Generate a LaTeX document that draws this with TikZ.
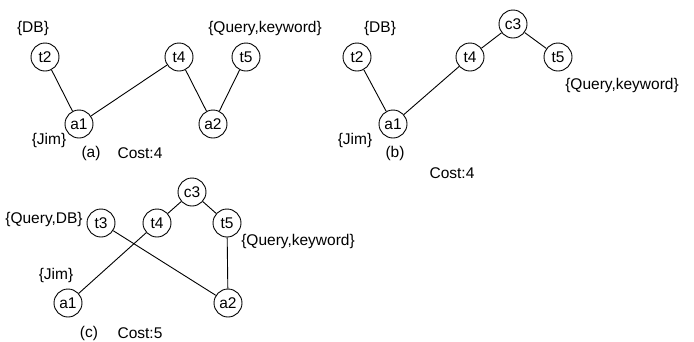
\documentclass[tikz,border=0pt]{standalone}
\usepackage{fontspec}
\setmainfont{Liberation Sans}
\usepackage{tikz}
\usetikzlibrary{positioning}

\begin{document}
\begin{tikzpicture}[x=1pt,y=-1pt,
    vnode/.style={circle, draw, line width=0.9pt, minimum size=28pt, inner sep=0pt},
    lab/.style={inner sep=0pt},
    every node/.style={font=\fontsize{15.5}{18}\selectfont},
    every path/.style={line width=0.9pt}]
    \useasboundingbox (0,0) rectangle (694,341);

    % tree (a)
    \node[vnode] (at2) at (45,57) {t2};
    \node[vnode] (at4) at (179,57) {t4};
    \node[vnode] (at5) at (246,57) {t5};
    \node[vnode] (aa1) at (79,124) {a1};
    \node[vnode] (aa2) at (213,124) {a2};
    \node[lab] (adb) at (33,28) {\{DB\}};
    \node[lab] (aqk) at (265,28) {\{Query,keyword\}};
    \node[lab] (ajim) at (49,140) {\{Jim\}};
    \node[lab] (acap) at (91,153) {(a)};
    \node[lab] (acost) at (140,153) {Cost:4};
    \foreach \u/\v in {at2/aa1, aa1/at4, at4/aa2, at5/aa2} {
        \draw (\u) -- (\v);
    }

    % tree (b)
    \node[vnode] (bt2) at (357,57) {t2};
    \node[vnode] (bc3) at (513,24) {c3};
    \node[vnode] (bt4) at (470,57) {t4};
    \node[vnode] (bt5) at (558,57) {t5};
    \node[vnode] (ba1) at (393,124) {a1};
    \node[lab] (bdb) at (380,28) {\{DB\}};
    \node[lab] (bqk) at (622,85) {\{Query,keyword\}};
    \node[lab] (bjim) at (355,140) {\{Jim\}};
    \node[lab] (bcap) at (395,153) {(b)};
    \node[lab] (bcost) at (452,173) {Cost:4};
    \foreach \u/\v in {bt2/ba1, ba1/bt4, bt4/bc3, bc3/bt5} {
        \draw (\u) -- (\v);
    }

    % tree (c)
    \node[vnode] (cc3) at (192,192) {c3};
    \node[vnode] (ct3) at (101,223) {t3};
    \node[vnode] (ct4) at (157,223) {t4};
    \node[vnode] (ct5) at (227,223) {t5};
    \node[vnode] (ca1) at (68,303) {a1};
    \node[vnode] (ca2) at (228,303) {a2};
    \node[lab] (cqdb) at (44,219) {\{Query,DB\}};
    \node[lab] (cqk) at (298,241) {\{Query,keyword\}};
    \node[lab] (cjim) at (56,275) {\{Jim\}};
    \node[lab] (ccap) at (89,333) {(c)};
    \node[lab] (ccost) at (140,333) {Cost:5};
    \foreach \u/\v in {cc3/ct4, cc3/ct5, ct3/ca2, ct4/ca1, ct5/ca2} {
        \draw (\u) -- (\v);
    }
\end{tikzpicture}
\end{document}
